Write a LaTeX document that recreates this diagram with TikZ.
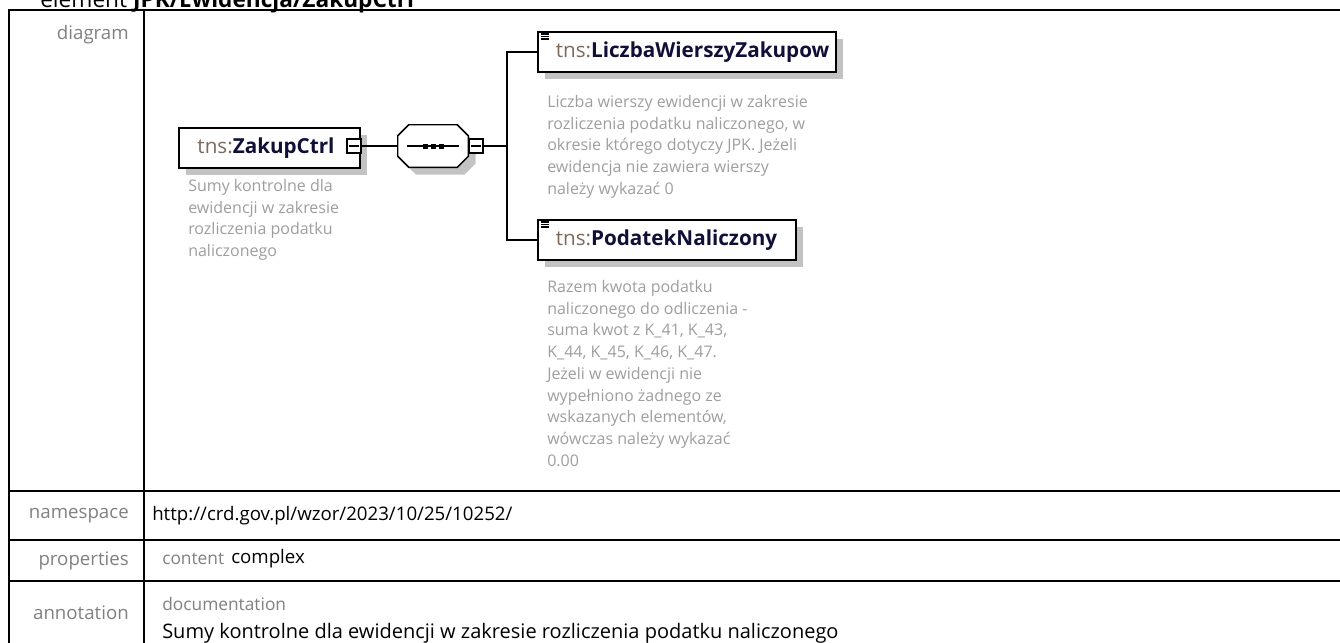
\documentclass[tikz,border=0pt]{standalone}
\usepackage{fontspec}
\setmainfont{Open Sans}
\usepackage{tikz}
\usetikzlibrary{positioning,calc,shapes.misc,shadows}
\definecolor{labgray}{RGB}{128,128,128}
\definecolor{docgray}{RGB}{158,158,158}
\definecolor{tnsbrown}{RGB}{125,105,90}
\definecolor{namenavy}{RGB}{15,15,55}
\definecolor{shadegray}{RGB}{195,195,195}
\newcommand{\tnsel}[1]{{\color{tnsbrown}tns:}{\bfseries\color{namenavy}#1}}

\begin{document}
\begin{tikzpicture}[x=0.75pt,y=-0.75pt,
  tabline/.style={line width=1.5pt},
  rowlab/.style={anchor=east,text=labgray,font=\fontsize{14}{17}\selectfont,inner sep=0},
  rowval/.style={anchor=west,font=\fontsize{14}{17}\selectfont,inner sep=0},
  rowkey/.style={anchor=west,text=labgray,font=\fontsize{13}{15}\selectfont,inner sep=0},
  boxshade/.style={drop shadow={shadow xshift=5.5pt,shadow yshift=-5.5pt,fill=shadegray,opacity=1}},
  elbox/.style={draw,fill=white,line width=1.2pt,boxshade,minimum height=30pt,
    inner sep=0,anchor=north west,align=left,font=\fontsize{15.5}{18}\selectfont},
  minusbox/.style={draw,fill=white,line width=0.8pt,minimum size=10.5pt,inner sep=0},
  docnote/.style={anchor=north west,align=left,inner sep=0,text=docgray,
    font=\fontsize{12}{16.3}\selectfont},
  wire/.style={line width=1.2pt}]
\useasboundingbox (0,0) rectangle (1340,643);

% heading, cut by the top edge
\node[anchor=base west,inner sep=0,font=\fontsize{17}{20}\selectfont] (title) at (40,7.5)
  {element \textbf{JPK/Ewidencja/ZakupCtrl}};

% table frame
\draw[tabline] (1345,10) -- (8.5,10) -- (8.5,650);
\draw[tabline] (144,10) -- (144,650);
\foreach \yy in {491,540,581}
  \draw[tabline] (8.5,\yy) -- (1345,\yy);

% row labels
\node[rowlab] (ldiag) at (129,35) {diagram};
\node[rowlab] (lns) at (129,516) {namespace};
\node[rowlab] (lprop) at (129,561) {properties};
\node[rowlab] (lann) at (129,613) {annotation};

% row values
\node[rowval] (ns) at (152,516) {http://crd.gov.pl/wzor/2023/10/25/10252/};
\node[rowkey] (pkey) at (162,559) {content};
\node[rowval] (pval) at (231,559) {complex};
\node[rowkey] (dockey) at (162,604) {documentation};
\node[rowval,font=\fontsize{15}{18}\selectfont] (docval) at (162,633)
  {Sumy kontrolne dla ewidencji w zakresie rozliczenia podatku naliczonego};

% element ZakupCtrl
\node[elbox,text width=135.75pt] (zakup) at (178,127) {\hspace*{14pt}\tnsel{ZakupCtrl}};
\node[minusbox] (zakupminus) at (354,146) {};
\draw[line width=0.8pt] ($(zakupminus.west)+(2.2pt,0)$) -- ($(zakupminus.east)+(-2.2pt,0)$);
\node[docnote] (zakupdoc) at (188,179)
  {Sumy kontrolne dla\\ewidencji w zakresie\\rozliczenia podatku\\naliczonego};

% sequence compositor (octagon drawn round the node)
\node[minimum width=52.5pt,minimum height=31.5pt,inner sep=0] (seq) at (433,146) {};
\path[draw,fill=white,line width=1.1pt,boxshade]
  ($(seq.north west)+(11,0)$) -- ($(seq.north east)+(-11,0)$) -- ($(seq.north east)+(0,11)$)
  -- ($(seq.south east)+(0,-11)$) -- ($(seq.south east)+(-11,0)$) -- ($(seq.south west)+(11,0)$)
  -- ($(seq.south west)+(0,-11)$) -- ($(seq.north west)+(0,11)$) -- cycle;
\draw[line width=1.1pt] ($(seq.west)+(9,0)$) -- ($(seq.east)+(-9,0)$);
\foreach \dx in {-8,0,8}
  \fill ($(seq.center)+(\dx,0)+(-2.5,-2.5)$) rectangle ++(5,5);
\node[minusbox] (seqminus) at (476,146) {};
\draw[line width=0.8pt] ($(seqminus.west)+(2.2pt,0)$) -- ($(seqminus.east)+(-2.2pt,0)$);
\coordinate (fork) at (507,146);

% child elements
\node[elbox,text width=223.5pt] (liczba) at (537,31)
  {\hspace*{13.5pt}\tnsel{LiczbaWierszyZakupow}};
\node[elbox,text width=193.5pt] (podatek) at (537,219)
  {\hspace*{13.5pt}\tnsel{PodatekNaliczony}};
\foreach \el in {liczba,podatek}
  \foreach \dy in {3,5.5,8}
    \draw[line width=0.9pt] ($(\el.north west)+(4,\dy)$) -- ++(8,0);
\node[docnote] (liczbadoc) at (547,95)
  {Liczba wierszy ewidencji w zakresie\\rozliczenia podatku naliczonego, w\\okresie kt\'orego dotyczy JPK. Je\.zeli\\ewidencja nie zawiera wierszy\\nale\.zy wykaza\'c 0};
\node[docnote] (podatekdoc) at (547,280)
  {Razem kwota podatku\\naliczonego do odliczenia -\\suma kwot z K\_41, K\_43,\\K\_44, K\_45, K\_46, K\_47.\\Je\.zeli w ewidencji nie\\wype\l{}niono \.zadnego ze\\wskazanych element\'ow,\\w\'owczas nale\.zy wykaza\'c\\0.00};

% connectors
\draw[wire] (zakupminus.east) -- (seq.west);
\draw[wire] (seqminus.east) -- (fork);
\draw[wire] (liczba.west) -| (fork) |- (podatek.west);
\end{tikzpicture}
\end{document}
